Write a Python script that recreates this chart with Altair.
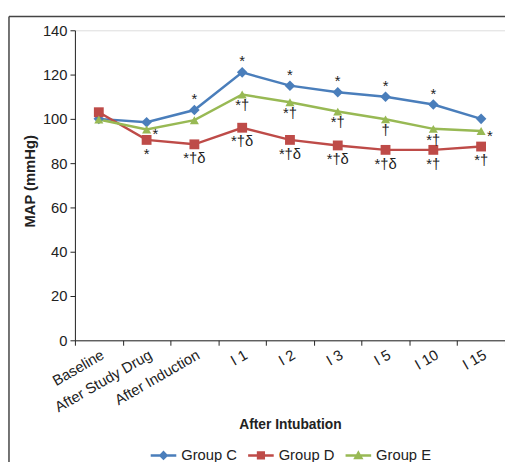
import altair as alt
import pandas as pd

categories = ["Baseline", "After Study Drug", "After Induction", "I 1", "I 2",
              "I 3", "I 5", "I 10", "I 15"]
groups = ["Group C", "Group D", "Group E"]
group_c = [100, 98.5, 104, 121, 115, 112, 110, 106.5, 100]
group_d = [103, 90.5, 88.5, 96, 90.5, 88, 86, 86, 87.5]
group_e = [99.7, 95.2, 99.4, 111, 107.5, 103.3, 99.8, 95.5, 94.5]
colors = ["#4A7EBB", "#BE4B48", "#98B954"]
y_ticks = [0, 20, 40, 60, 80, 100, 120, 140]

# significance marks: (group, time point, text, placement)
ann_group = ["Group C"] * 6 + ["Group E"] * 7 + ["Group D"] * 8
ann_time = ["After Induction", "I 1", "I 2", "I 3", "I 5", "I 10",
            "After Study Drug", "I 1", "I 2", "I 3", "I 5", "I 10", "I 15",
            "After Study Drug", "After Induction", "I 1", "I 2", "I 3", "I 5", "I 10", "I 15"]
ann_text = ["*", "*", "*", "*", "*", "*",
            "*", "*†", "*†", "*†", "†", "*†", "*",
            "*", "*†δ", "*†δ", "*†δ", "*†δ", "*†δ", "*†", "*†"]
ann_pos = ["above"] * 6 + ["right", "belowE", "belowE", "belowE", "belowE", "belowE", "right"] + ["belowD"] * 8

series = {"Group C": group_c, "Group D": group_d, "Group E": group_e}
rows = []
for g in groups:
    for c, v in zip(categories, series[g]):
        rows.append({"time": c, "group": g, "map": v})
df = pd.DataFrame(rows)

ann = pd.DataFrame({"group": ann_group, "time": ann_time, "text": ann_text, "pos": ann_pos})
ann = ann.merge(df, on=["group", "time"], how="left")

FONT = "Liberation Sans"

x_enc = alt.X("time:N", sort=categories, bandPosition=0.5,
              scale=alt.Scale(type="band", domain=categories, paddingInner=0, paddingOuter=0),
              axis=alt.Axis(title="After Intubation", labelAngle=-30, tickBand="extent",
                            labelFontSize=15, labelFont=FONT, labelColor="#222",
                            labelPadding=2, tickSize=5, tickColor="#222", domainColor="#222",
                            titleFont=FONT, titleFontSize=14, titleFontWeight="bold",
                            titleColor="#222", titleY=79, titleBaseline="top"))
y_enc = alt.Y("map:Q", scale=alt.Scale(domain=[0, 140]),
              axis=alt.Axis(values=y_ticks, grid=False, title="MAP (mmHg)",
                            labelFontSize=15, labelFont=FONT, labelColor="#222",
                            labelPadding=3, tickSize=5, tickColor="#222", domainColor="#222",
                            titleFont=FONT, titleFontSize=15, titleFontWeight="bold",
                            titleColor="#222", titleX=-46, titleY=153,
                            titleAlign="center", titleBaseline="middle"))

def cscale():
    return alt.Scale(domain=groups, range=colors)

base = alt.Chart(df)

lines = base.mark_line(strokeWidth=2.5).encode(
    x=x_enc, y=y_enc, color=alt.Color("group:N", scale=cscale(), legend=None),
    detail="group:N")

points = base.mark_point(filled=True, opacity=1, strokeWidth=0).encode(
    x=x_enc, y=y_enc,
    color=alt.Color("group:N", scale=cscale(), legend=None),
    shape=alt.Shape("group:N", scale=alt.Scale(domain=groups,
                                                range=["diamond", "square", "triangle-up"]),
                    legend=None),
    size=alt.Size("group:N", scale=alt.Scale(domain=groups, range=[115, 85, 105]), legend=None))

legend_paths = [
    "M-1,-0.1H-0.28L0,-0.38L0.28,-0.1H1V0.1H0.28L0,0.38L-0.28,0.1H-1Z",
    "M-1,-0.1H-0.32V-0.32H0.32V-0.1H1V0.1H0.32V0.32H-0.32V0.1H-1Z",
    "M-1,-0.1H-0.171L0,-0.4L0.171,-0.1H1V0.1H0.286L0.4,0.3H-0.4L-0.286,0.1H-1Z",
]
leg = alt.Legend(title=None, orient="none", direction="horizontal", legendX=77, legendY=419,
                 symbolSize=676, symbolStrokeWidth=0, labelFont=FONT, labelFontSize=15,
                 labelColor="#222", labelOffset=5, columnPadding=11, symbolOpacity=1)
legend_layer = base.transform_filter("false").mark_point(filled=True).encode(
    x=x_enc, y=y_enc,
    color=alt.Color("group:N", scale=cscale(), legend=leg),
    shape=alt.Shape("group:N", scale=alt.Scale(domain=groups, range=legend_paths), legend=leg))

abase = alt.Chart(ann)
tstyle = dict(font=FONT, fontSize=15, color="#222")
t_above = abase.transform_filter("datum.pos == 'above'").mark_text(
    baseline="alphabetic", dy=-6, **tstyle).encode(x=x_enc, y=y_enc, text="text:N")
t_below_d = abase.transform_filter("datum.pos == 'belowD'").mark_text(
    baseline="top", dy=7, **tstyle).encode(x=x_enc, y=y_enc, text="text:N")
t_below_e = abase.transform_filter("datum.pos == 'belowE'").mark_text(
    baseline="top", dy=4, **tstyle).encode(x=x_enc, y=y_enc, text="text:N")
t_right = abase.transform_filter("datum.pos == 'right'").mark_text(
    baseline="middle", align="center", dx=9, dy=5, **tstyle).encode(x=x_enc, y=y_enc, text="text:N")

frame_df = pd.DataFrame({"k": [0]})
frame_left = alt.Chart(frame_df).mark_rule(color="#444", strokeWidth=1.5).encode(
    x=alt.value(-67), y=alt.value(-14), y2=alt.value(520))
frame_top = alt.Chart(frame_df).mark_rule(color="#444", strokeWidth=1.5).encode(
    x=alt.value(-67), x2=alt.value(520), y=alt.value(-14))

chart = alt.layer(
    lines, points, legend_layer, t_above, t_below_d, t_below_e, t_right, frame_left, frame_top
).resolve_scale(
    color="independent", shape="independent", size="independent"
).properties(
    width=437, height=315,
    autosize=alt.AutoSizeParams(type="none"),
    padding={"left": 68, "top": 19, "right": 0, "bottom": 120},
).configure_view(stroke=None).configure(background="white")

chart.save("out.html", embed_options={"renderer": "svg", "actions": False})
